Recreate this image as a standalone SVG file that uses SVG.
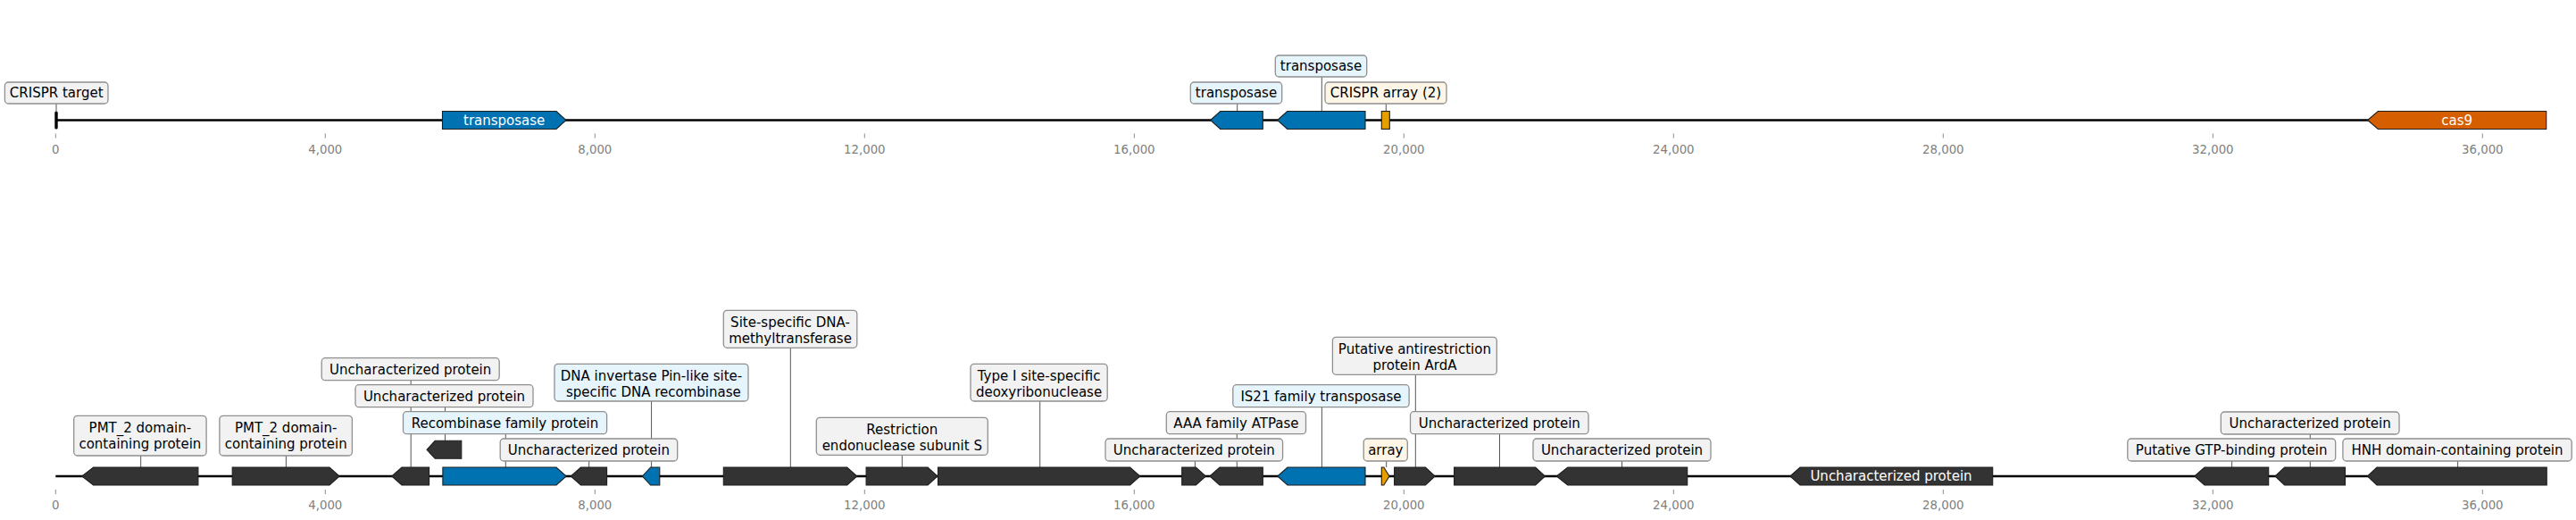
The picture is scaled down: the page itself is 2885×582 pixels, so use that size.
<svg xmlns="http://www.w3.org/2000/svg" width="2885" height="582" viewBox="0 0 2885 582">
<style>
.bg{fill:#ffffff}
.axis{stroke:#000;stroke-width:2.5;fill:none}
.tick{stroke:#8a8a8a;stroke-width:1}
.tl{font-family:"DejaVu Sans","Liberation Sans",sans-serif;font-size:13.3px;fill:#808080;text-anchor:middle}
.g{stroke:#1e1e1e;stroke-width:1.1;stroke-linejoin:miter}
.blk{fill:#333333}
.blu{fill:#0072b2}
.org{fill:#e69f00}
.ver{fill:#d55e00}
.conn{stroke:#555;stroke-width:1;fill:none}
.box{fill:#f2f2f2;stroke:#8f8f8f;stroke-width:1.3}
.boxb{fill:#e6f4fc;stroke:#8f8f8f;stroke-width:1.3}
.boxo{fill:#fdf5e6;stroke:#8f8f8f;stroke-width:1.3}
.t{font-family:"DejaVu Sans","Liberation Sans",sans-serif;font-size:15px;fill:#000;text-anchor:middle}
.tw{font-family:"DejaVu Sans","Liberation Sans",sans-serif;font-size:15px;fill:#fff;text-anchor:middle}
</style>
<rect class="bg" x="0" y="0" width="2885" height="582"/>

<!-- ===== TOP TRACK ===== -->
<g id="top-axis">
<line class="axis" x1="62.3" y1="134.5" x2="2851.7" y2="134.5"/>
<g class="tick">
<line x1="62.3" y1="149.5" x2="62.3" y2="154.5"/><line x1="364.3" y1="149.5" x2="364.3" y2="154.5"/><line x1="666.3" y1="149.5" x2="666.3" y2="154.5"/><line x1="968.3" y1="149.5" x2="968.3" y2="154.5"/><line x1="1270.3" y1="149.5" x2="1270.3" y2="154.5"/><line x1="1572.3" y1="149.5" x2="1572.3" y2="154.5"/><line x1="1874.3" y1="149.5" x2="1874.3" y2="154.5"/><line x1="2176.3" y1="149.5" x2="2176.3" y2="154.5"/><line x1="2478.3" y1="149.5" x2="2478.3" y2="154.5"/><line x1="2780.3" y1="149.5" x2="2780.3" y2="154.5"/>
</g>
<text class="tl" x="62.3" y="171.5">0</text><text class="tl" x="364.3" y="171.5">4,000</text><text class="tl" x="666.3" y="171.5">8,000</text><text class="tl" x="968.3" y="171.5">12,000</text><text class="tl" x="1270.3" y="171.5">16,000</text><text class="tl" x="1572.3" y="171.5">20,000</text><text class="tl" x="1874.3" y="171.5">24,000</text><text class="tl" x="2176.3" y="171.5">28,000</text><text class="tl" x="2478.3" y="171.5">32,000</text><text class="tl" x="2780.3" y="171.5">36,000</text>
</g>

<g id="top-connectors">
<line class="conn" x1="63" y1="116" x2="63" y2="124.5"/>
<line class="conn" x1="1385.7" y1="116" x2="1385.7" y2="124.5"/>
<line class="conn" x1="1480.3" y1="86" x2="1480.3" y2="124.5"/>
<line class="conn" x1="1552.3" y1="116" x2="1552.3" y2="124.5"/>
</g>

<g id="t-crispr-target">
<rect x="61.3" y="124.5" width="3.4" height="20" rx="1.6" fill="#000"/>
<rect class="box" x="5.4" y="92" width="115.6" height="24" rx="4"/>
<text class="t" x="63.2" y="109">CRISPR target</text>
</g>
<g id="t-transposase-1">
<polygon class="g blu" points="495.5,124.5 623,124.5 634,134.5 623,144.5 495.5,144.5"/>
<text class="tw" x="564.7" y="139.8">transposase</text>
</g>
<g id="t-transposase-2">
<polygon class="g blu" points="1355.7,134.5 1366.7,124.5 1414.3,124.5 1414.3,144.5 1366.7,144.5"/>
<rect class="boxb" x="1333.3" y="92" width="102.4" height="24" rx="4"/>
<text class="t" x="1384.5" y="109">transposase</text>
</g>
<g id="t-transposase-3">
<polygon class="g blu" points="1430.7,134.5 1441.7,124.5 1529,124.5 1529,144.5 1441.7,144.5"/>
<rect class="boxb" x="1428.3" y="62" width="102.4" height="24" rx="4"/>
<text class="t" x="1479.5" y="79">transposase</text>
</g>
<g id="t-crispr-array">
<rect class="g org" x="1547.3" y="124.5" width="9" height="20"/>
<rect class="boxo" x="1484" y="92" width="136" height="24" rx="4"/>
<text class="t" x="1552" y="109">CRISPR array (2)</text>
</g>
<g id="t-cas9">
<polygon class="g ver" points="2651.7,134.5 2663.3,124.5 2851.7,124.5 2851.7,144.5 2663.3,144.5"/>
<text class="tw" x="2751.7" y="139.8">cas9</text>
</g>

<!-- ===== BOTTOM TRACK ===== -->
<g id="bottom-axis">
<line class="axis" x1="62.3" y1="533" x2="2852" y2="533"/>
<g class="tick">
<line x1="62.3" y1="548" x2="62.3" y2="553"/><line x1="364.3" y1="548" x2="364.3" y2="553"/><line x1="666.3" y1="548" x2="666.3" y2="553"/><line x1="968.3" y1="548" x2="968.3" y2="553"/><line x1="1270.3" y1="548" x2="1270.3" y2="553"/><line x1="1572.3" y1="548" x2="1572.3" y2="553"/><line x1="1874.3" y1="548" x2="1874.3" y2="553"/><line x1="2176.3" y1="548" x2="2176.3" y2="553"/><line x1="2478.3" y1="548" x2="2478.3" y2="553"/><line x1="2780.3" y1="548" x2="2780.3" y2="553"/>
</g>
<text class="tl" x="62.3" y="570">0</text><text class="tl" x="364.3" y="570">4,000</text><text class="tl" x="666.3" y="570">8,000</text><text class="tl" x="968.3" y="570">12,000</text><text class="tl" x="1270.3" y="570">16,000</text><text class="tl" x="1572.3" y="570">20,000</text><text class="tl" x="1874.3" y="570">24,000</text><text class="tl" x="2176.3" y="570">28,000</text><text class="tl" x="2478.3" y="570">32,000</text><text class="tl" x="2780.3" y="570">36,000</text>
</g>

<g id="bottom-connectors">
<line class="conn" x1="157.7" y1="510" x2="157.7" y2="523"/>
<line class="conn" x1="320.4" y1="510" x2="320.4" y2="523"/>
<line class="conn" x1="460.2" y1="425.7" x2="460.2" y2="523"/>
<line class="conn" x1="498.5" y1="455.7" x2="498.5" y2="493.3"/>
<line class="conn" x1="566.3" y1="485.7" x2="566.3" y2="523"/>
<line class="conn" x1="659.7" y1="516" x2="659.7" y2="523"/>
<line class="conn" x1="729.6" y1="449" x2="729.6" y2="523"/>
<line class="conn" x1="885.3" y1="389.3" x2="885.3" y2="523"/>
<line class="conn" x1="1010.3" y1="509.3" x2="1010.3" y2="523"/>
<line class="conn" x1="1164.7" y1="449" x2="1164.7" y2="523"/>
<line class="conn" x1="1338.4" y1="516" x2="1338.4" y2="523"/>
<line class="conn" x1="1385.3" y1="485.7" x2="1385.3" y2="523"/>
<line class="conn" x1="1480.4" y1="455.7" x2="1480.4" y2="523"/>
<line class="conn" x1="1552.7" y1="516" x2="1552.7" y2="523"/>
<line class="conn" x1="1585.3" y1="419.3" x2="1585.3" y2="523"/>
<line class="conn" x1="1679.5" y1="485.7" x2="1679.5" y2="523"/>
<line class="conn" x1="1816.5" y1="516" x2="1816.5" y2="523"/>
<line class="conn" x1="2499.6" y1="516" x2="2499.6" y2="523"/>
<line class="conn" x1="2587.3" y1="486" x2="2587.3" y2="523"/>
<line class="conn" x1="2752.6" y1="516" x2="2752.6" y2="523"/>
</g>

<g id="b-pmt2-1">
<polygon class="g blk" points="91.8,533 104.6,523 221.9,523 221.9,543 104.6,543"/>
<rect class="box" x="82.7" y="465.3" width="148.4" height="44.7" rx="4"/>
<text class="t" x="156.9" y="484.3">PMT_2 domain-</text>
<text class="t" x="156.9" y="502">containing protein</text>
</g>
<g id="b-pmt2-2">
<polygon class="g blk" points="260.2,523 369,523 380.1,533 369,543 260.2,543"/>
<rect class="box" x="245.9" y="465.3" width="148.5" height="44.7" rx="4"/>
<text class="t" x="320.2" y="484.3">PMT_2 domain-</text>
<text class="t" x="320.2" y="502">containing protein</text>
</g>
<g id="b-unchar-1">
<polygon class="g blk" points="438.8,533 450,523 480.6,523 480.6,543 450,543"/>
<rect class="box" x="360.2" y="400.7" width="199" height="25" rx="4"/>
<text class="t" x="459.7" y="418.5">Uncharacterized protein</text>
</g>
<g id="b-unchar-2">
<polygon class="g blk" points="478,503.3 487.2,493.3 516.8,493.3 516.8,513.3 487.2,513.3"/>
<rect class="box" x="398" y="430.7" width="199" height="25" rx="4"/>
<text class="t" x="497.5" y="448.5">Uncharacterized protein</text>
</g>
<g id="b-recombinase">
<polygon class="g blu" points="495.9,523 623,523 634.2,533 623,543 495.9,543"/>
<rect class="boxb" x="451.5" y="460.7" width="228.1" height="25" rx="4"/>
<text class="t" x="565.5" y="478.5">Recombinase family protein</text>
</g>
<g id="b-unchar-3">
<polygon class="g blk" points="639.3,533 650.5,523 679.6,523 679.6,543 650.5,543"/>
<rect class="box" x="560.2" y="491" width="198.5" height="25" rx="4"/>
<text class="t" x="659.4" y="508.8">Uncharacterized protein</text>
</g>
<g id="b-dna-invertase">
<polygon class="g blu" points="719.4,533 728.6,523 738.8,523 738.8,543 728.6,543"/>
<rect class="boxb" x="621" y="407.3" width="217" height="41.7" rx="4"/>
<text class="t" x="729.5" y="426">DNA invertase Pin-like site-</text>
<text class="t" x="729.5" y="443.7" xml:space="preserve"> specific DNA recombinase</text>
</g>
<g id="b-methyltransferase">
<polygon class="g blk" points="810.3,523 948.7,523 959.8,533 948.7,543 810.3,543"/>
<rect class="box" x="810.3" y="347.3" width="149.5" height="42" rx="4"/>
<text class="t" x="885" y="366">Site-specific DNA-</text>
<text class="t" x="885" y="383.7">methyltransferase</text>
</g>
<g id="b-restriction-s">
<polygon class="g blk" points="970.1,523 1039,523 1050,533 1039,543 970.1,543"/>
<rect class="box" x="914.3" y="467.3" width="192" height="42" rx="4"/>
<text class="t" x="1010.3" y="486">Restriction</text>
<text class="t" x="1010.3" y="503.7">endonuclease subunit S</text>
</g>
<g id="b-type1">
<polygon class="g blk" points="1050.5,523 1265.6,523 1276.8,533 1265.6,543 1050.5,543"/>
<rect class="box" x="1087" y="407.3" width="153.2" height="41.7" rx="4"/>
<text class="t" x="1163.6" y="426">Type I site-specific</text>
<text class="t" x="1163.6" y="443.7">deoxyribonuclease</text>
</g>
<g id="b-unchar-4">
<polygon class="g blk" points="1323.7,523 1339.3,523 1350.4,533 1339.3,543 1323.7,543"/>
<rect class="box" x="1238" y="491" width="198.6" height="25" rx="4"/>
<text class="t" x="1337.3" y="508.8">Uncharacterized protein</text>
</g>
<g id="b-aaa">
<polygon class="g blk" points="1354.9,533 1366,523 1414.3,523 1414.3,543 1366,543"/>
<rect class="box" x="1306.3" y="460.7" width="156.2" height="25" rx="4"/>
<text class="t" x="1384.4" y="478.5">AAA family ATPase</text>
</g>
<g id="b-is21">
<polygon class="g blu" points="1430.8,533 1442,523 1529,523 1529,543 1442,543"/>
<rect class="boxb" x="1380.8" y="430.7" width="197.3" height="25" rx="4"/>
<text class="t" x="1479.5" y="448.5">IS21 family transposase</text>
</g>
<g id="b-array">
<polygon class="g org" points="1547.3,523 1549.8,523 1556,533 1549.8,543 1547.3,543"/>
<rect class="boxo" x="1527.2" y="491" width="49.1" height="25" rx="4"/>
<text class="t" x="1551.8" y="508.8">array</text>
</g>
<g id="b-arda">
<polygon class="g blk" points="1561.6,523 1596.4,523 1607.1,533 1596.4,543 1561.6,543"/>
<rect class="box" x="1492.4" y="377.3" width="183.9" height="42" rx="4"/>
<text class="t" x="1584.4" y="396">Putative antirestriction</text>
<text class="t" x="1584.4" y="413.7">protein ArdA</text>
</g>
<g id="b-unchar-5">
<polygon class="g blk" points="1628.6,523 1719.6,523 1730.4,533 1719.6,543 1628.6,543"/>
<rect class="box" x="1579.5" y="460.7" width="199.5" height="25" rx="4"/>
<text class="t" x="1679.3" y="478.5">Uncharacterized protein</text>
</g>
<g id="b-unchar-6">
<polygon class="g blk" points="1743.3,533 1755.8,523 1889.7,523 1889.7,543 1755.8,543"/>
<rect class="box" x="1717" y="491" width="199" height="25" rx="4"/>
<text class="t" x="1816.5" y="508.8">Uncharacterized protein</text>
</g>
<g id="b-unchar-7">
<polygon class="g blk" points="2004.9,533 2016,523 2231.7,523 2231.7,543 2016,543"/>
<text class="tw" x="2118" y="538.3">Uncharacterized protein</text>
</g>
<g id="b-gtp">
<polygon class="g blk" points="2457.8,533 2469,523 2540.7,523 2540.7,543 2469,543"/>
<rect class="box" x="2382.8" y="491" width="232.9" height="25" rx="4"/>
<text class="t" x="2499.2" y="508.8">Putative GTP-binding protein</text>
</g>
<g id="b-unchar-8">
<polygon class="g blk" points="2548.1,533 2558.6,523 2626.5,523 2626.5,543 2558.6,543"/>
<rect class="box" x="2487.3" y="461" width="199.7" height="25" rx="4"/>
<text class="t" x="2587.1" y="478.8">Uncharacterized protein</text>
</g>
<g id="b-hnh">
<polygon class="g blk" points="2651.5,533 2662,523 2852.2,523 2852.2,543 2662,543"/>
<rect class="box" x="2623.9" y="491" width="256.3" height="25" rx="4"/>
<text class="t" x="2752" y="508.8">HNH domain-containing protein</text>
</g>
</svg>
